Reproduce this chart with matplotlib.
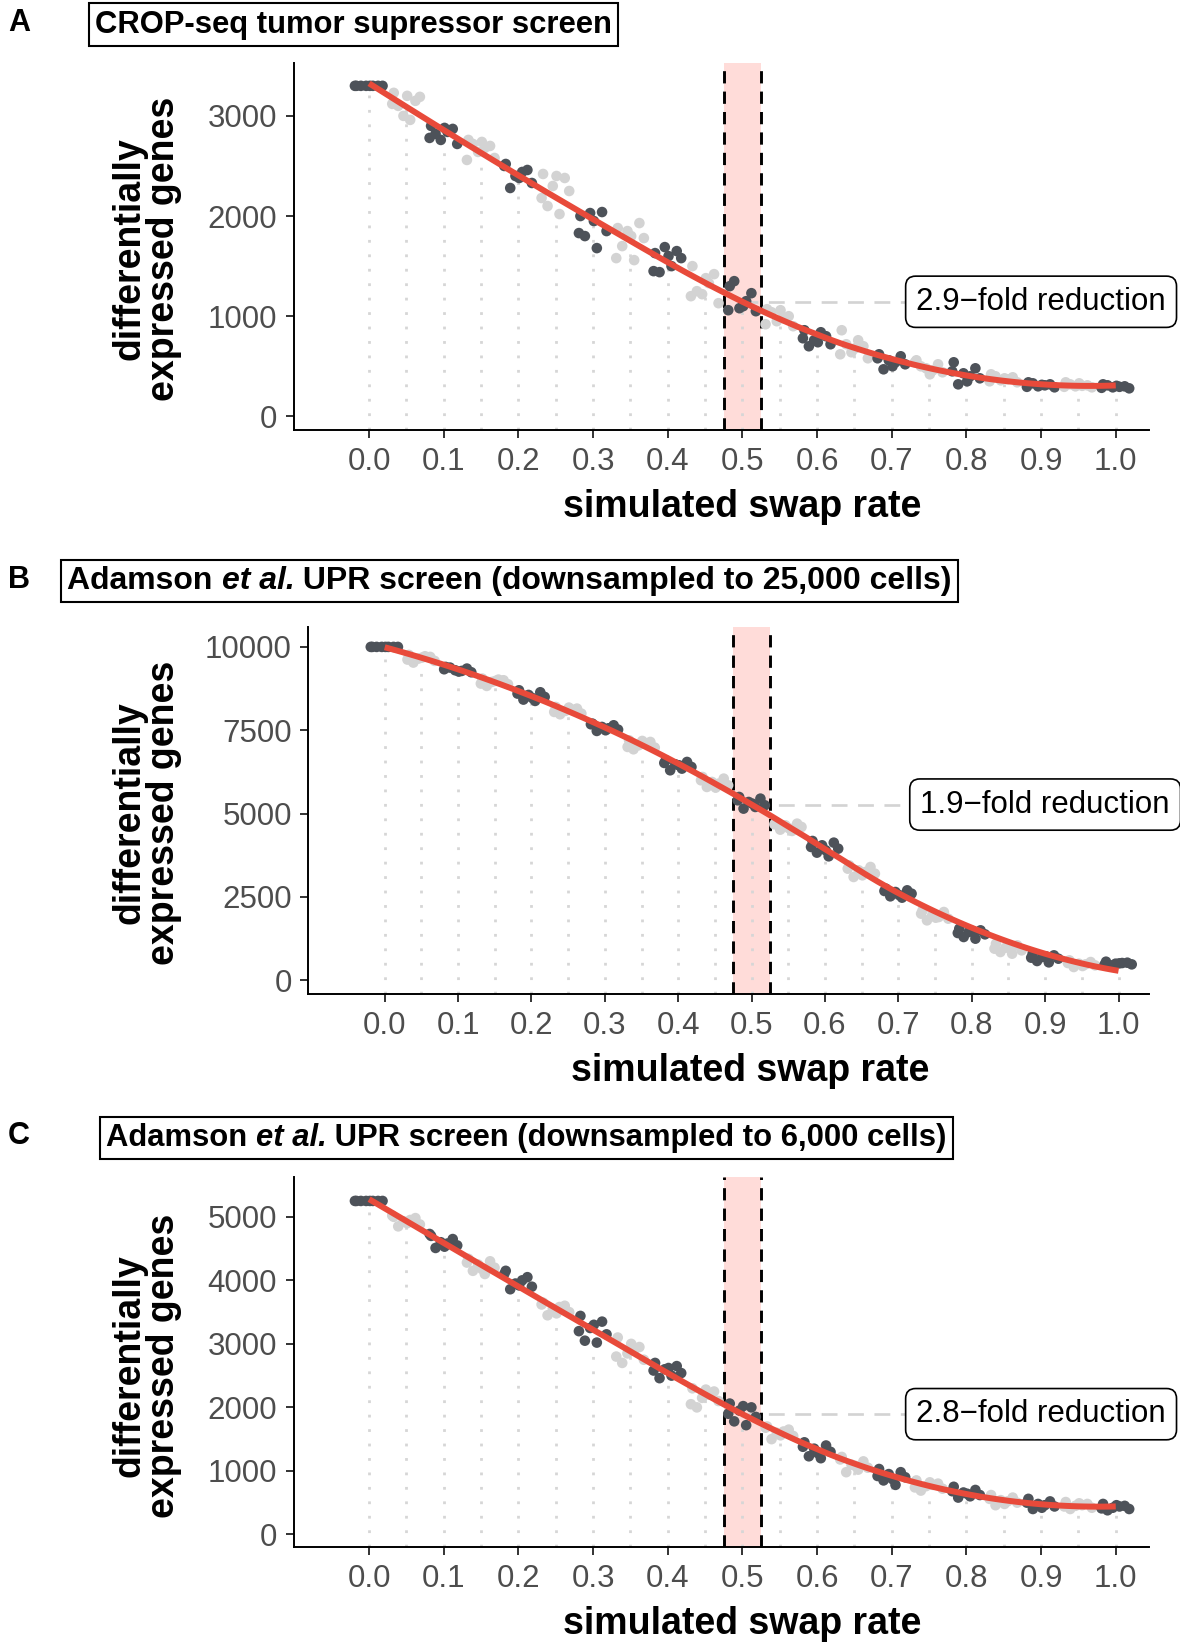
import numpy as np
import matplotlib
matplotlib.use('Agg')
import matplotlib.pyplot as plt
from matplotlib.offsetbox import TextArea, HPacker, AnchoredOffsetbox

plt.rcParams['font.family'] = ['Liberation Sans', 'DejaVu Sans']

# ---------------- data ----------------
swap_rates = [0.00, 0.05, 0.10, 0.15, 0.20, 0.25, 0.30, 0.35, 0.40, 0.45, 0.50,
              0.55, 0.60, 0.65, 0.70, 0.75, 0.80, 0.85, 0.90, 0.95, 1.00]
x_tick_values = [0.0, 0.1, 0.2, 0.3, 0.4, 0.5, 0.6, 0.7, 0.8, 0.9, 1.0]
x_tick_labels = ['0.0', '0.1', '0.2', '0.3', '0.4', '0.5', '0.6', '0.7', '0.8', '0.9', '1.0']
# horizontal jitter of the replicate points
jitter_offsets = [-0.017, 0.012, -0.004, 0.018, -0.011, 0.005, -0.019, 0.001]

crop_seq_degs = [
    [3300, 3300, 3300, 3300, 3300, 3300, 3300, 3300],
    [3230, 3150, 3000, 3190, 3100, 2960, 3120, 3200],
    [2900, 2870, 2760, 2720, 2820, 2840, 2780, 2880],
    [2760, 2700, 2640, 2580, 2720, 2680, 2560, 2740],
    [2520, 2460, 2400, 2330, 2280, 2440, 2500, 2380],
    [2420, 2380, 2300, 2250, 2100, 2020, 2180, 2400],
    [2000, 2040, 2030, 1850, 1800, 1680, 1830, 1950],
    [1880, 1930, 1850, 1780, 1700, 1560, 1580, 1800],
    [1630, 1650, 1690, 1580, 1440, 1500, 1450, 1600],
    [1500, 1420, 1220, 1130, 1250, 1330, 1200, 1380],
    [1300, 1230, 1080, 1050, 1350, 1150, 1060, 1100],
    [1070, 1000, 950, 900, 1040, 980, 920, 1060],
    [860, 800, 760, 720, 700, 840, 780, 740],
    [860, 700, 640, 580, 720, 760, 620, 680],
    [620, 600, 560, 520, 470, 540, 580, 500],
    [560, 520, 480, 440, 500, 460, 540, 420],
    [540, 480, 430, 380, 320, 400, 450, 350],
    [420, 390, 360, 340, 400, 370, 350, 380],
    [340, 320, 300, 290, 330, 310, 295, 315],
    [340, 310, 300, 290, 320, 305, 295, 330],
    [320, 300, 290, 280, 310, 295, 285, 305],
]

adamson_25k_degs = [
    [10000, 10000, 10000, 10000, 10000, 10000, 10000, 10000],
    [9760, 9700, 9650, 9580, 9530, 9720, 9620, 9680],
    [9400, 9350, 9300, 9240, 9380, 9280, 9330, 9260],
    [9050, 9000, 8950, 8880, 8830, 9020, 8900, 8980],
    [8700, 8640, 8560, 8500, 8420, 8380, 8600, 8470],
    [8200, 8150, 8080, 8000, 7980, 8120, 8050, 8180],
    [7700, 7650, 7600, 7520, 7480, 7560, 7680, 7500],
    [7200, 7150, 7050, 6980, 6930, 7100, 7000, 7180],
    [6600, 6550, 6480, 6400, 6300, 6350, 6520, 6450],
    [6100, 6050, 5950, 5850, 5800, 5900, 6000, 5780],
    [5500, 5450, 5350, 5250, 5150, 5200, 5400, 5300],
    [4750, 4700, 4650, 4600, 4520, 4480, 4680, 4560],
    [4180, 4130, 4050, 3950, 3830, 3720, 4000, 3900],
    [3450, 3400, 3300, 3200, 3100, 3250, 3350, 3150],
    [2750, 2700, 2650, 2600, 2520, 2480, 2680, 2560],
    [2100, 2050, 1950, 1850, 1800, 1900, 2000, 1880],
    [1550, 1500, 1450, 1380, 1300, 1250, 1420, 1480],
    [1100, 1050, 980, 900, 850, 800, 950, 1020],
    [800, 750, 700, 650, 580, 540, 680, 720],
    [600, 550, 500, 450, 400, 480, 520, 430],
    [560, 530, 500, 480, 450, 520, 470, 510],
]

adamson_6k_degs = [
    [5250, 5250, 5250, 5250, 5250, 5250, 5250, 5250],
    [5000, 4980, 4930, 4880, 4850, 4950, 5020, 4900],
    [4700, 4650, 4600, 4550, 4510, 4580, 4730, 4530],
    [4340, 4300, 4250, 4200, 4150, 4100, 4280, 4180],
    [4150, 4050, 3950, 3900, 3860, 4000, 4100, 3920],
    [3650, 3600, 3550, 3500, 3450, 3580, 3620, 3480],
    [3440, 3350, 3250, 3150, 3050, 3020, 3200, 3300],
    [3100, 2950, 2850, 2750, 2700, 2900, 2800, 3000],
    [2700, 2650, 2600, 2540, 2460, 2500, 2580, 2620],
    [2300, 2250, 2150, 2100, 2000, 2200, 2050, 2280],
    [2060, 2000, 1950, 1850, 1780, 1720, 1900, 2020],
    [1700, 1650, 1600, 1550, 1500, 1620, 1680, 1560],
    [1450, 1400, 1350, 1300, 1230, 1200, 1380, 1280],
    [1220, 1150, 1100, 1050, 980, 1020, 1180, 1080],
    [1030, 980, 950, 900, 850, 780, 920, 870],
    [850, 800, 760, 720, 690, 780, 740, 820],
    [750, 700, 660, 620, 580, 600, 680, 640],
    [620, 580, 540, 500, 460, 520, 560, 480],
    [560, 520, 480, 440, 400, 460, 500, 420],
    [510, 480, 450, 420, 400, 460, 440, 490],
    [480, 450, 420, 400, 380, 440, 410, 460],
]

panel_letters = ['A', 'B', 'C']
panel_titles = [
    [('CROP-seq tumor supressor screen', 'normal')],
    [('Adamson ', 'normal'), ('et al.', 'italic'), (' UPR screen (downsampled to 25,000 cells)', 'normal')],
    [('Adamson ', 'normal'), ('et al.', 'italic'), (' UPR screen (downsampled to 6,000 cells)', 'normal')],
]
fold_labels = ['2.9\u2212fold reduction', '1.9\u2212fold reduction', '2.8\u2212fold reduction']
y_ticks = [[0, 1000, 2000, 3000],
           [0, 2500, 5000, 7500, 10000],
           [0, 1000, 2000, 3000, 4000, 5000]]
panel_data = [crop_seq_degs, adamson_25k_degs, adamson_6k_degs]
x_label = 'simulated swap rate'
y_label = 'differentially\nexpressed genes'
highlight_rate = 0.5
band_half_width = 0.025
label_x = 0.9

# ---------------- layout / style ----------------
W, H = 1180, 1644
axes_px = [(293.7, 1148.6, 62.9, 430.0),
           (308.4, 1148.6, 627.0, 994.0),
           (293.7, 1148.6, 1177.0, 1547.0)]
xlims = [(-0.101, 1.044), (-0.104, 1.041), (-0.101, 1.044)]
ylims = [(-136, 3529), (-409, 10597), (-198, 5627)]
title_box = [(89 / W, 1 - 24.6 / H), (61 / W, 1 - 581 / H), (99.6 / W, 1 - 1138 / H)]
title_size = [22.35, 23.0, 22.35]
letter_y = [1 - 23 / H, 1 - 580 / H, 1 - 1136 / H]
xlabel_pos = [(742 / W, 1 - 506.6 / H), (750.5 / W, 1 - 1071 / H), (742 / W, 1 - 1624 / H)]
ylabel_pos = [(147 / W, 1 - 249 / H), (147 / W, 1 - 813 / H), (147 / W, 1 - 1366 / H)]

dark_col = '#4D5259'
light_col = '#D3D3D3'
red_col = '#E84A3A'
band_col = '#FFDCD9'
tick_col = '#4D4D4D'


def loess(x, y, xs, span=0.75):
    x = np.asarray(x, float)
    y = np.asarray(y, float)
    n = len(x)
    q = int(np.floor(n * span))
    out = []
    for x0 in xs:
        d = np.abs(x - x0)
        h = np.sort(d)[q - 1]
        w = np.clip(1 - (d / h) ** 3, 0, None) ** 3
        X = np.vstack([np.ones(n), x - x0, (x - x0) ** 2]).T
        sw = np.sqrt(w)
        beta, *_ = np.linalg.lstsq(X * sw[:, None], y * sw, rcond=None)
        out.append(beta[0])
    return np.array(out)


fig = plt.figure(figsize=(W / 100, H / 100), dpi=100)

for i in range(3):
    l, r, t, b = axes_px[i]
    ax = fig.add_axes([l / W, 1 - b / H, (r - l) / W, (b - t) / H])
    ax.set_xlim(*xlims[i])
    ax.set_ylim(*ylims[i])
    data = panel_data[i]
    ybot = ylims[i][0]

    # highlight band
    ax.axvspan(highlight_rate - band_half_width, highlight_rate + band_half_width,
               color=band_col, lw=0, zorder=0.5)

    # dotted guides
    for xr, ys in zip(swap_rates, data):
        ax.plot([xr, xr], [ybot, np.mean(ys)], color='#D6D6D6', lw=2.0,
                linestyle=(0, (1, 4.2)), solid_capstyle='butt', dash_capstyle='butt',
                zorder=1)

    # loess fit
    xs_all = np.repeat(swap_rates, [len(g) for g in data])
    ys_all = np.concatenate([np.asarray(g, float) for g in data])
    xs_fit = np.linspace(0, 1, 120)
    ys_fit = loess(xs_all, ys_all, xs_fit)
    y_mid = loess(xs_all, ys_all, [highlight_rate])[0]

    # horizontal reference line to label
    ax.plot([highlight_rate, label_x], [y_mid, y_mid], color='#D3D3D3', lw=1.9,
            linestyle=(0, (6, 4)), zorder=1.5)

    # dashed band edges
    for xe in (highlight_rate - band_half_width, highlight_rate + band_half_width):
        ax.axvline(xe, color='black', lw=2.1, linestyle=(0, (4.2, 2.8)), zorder=2)

    # points
    for k, (xr, ys) in enumerate(zip(swap_rates, data)):
        col = dark_col if k % 2 == 0 else light_col
        xj = [xr + jitter_offsets[j % len(jitter_offsets)] for j in range(len(ys))]
        ax.scatter(xj, ys, s=58, c=col, edgecolors='none', zorder=3)

    ax.plot(xs_fit, ys_fit, color=red_col, lw=4.3, zorder=4, solid_capstyle='butt')

    ax.text(label_x, y_mid, fold_labels[i], ha='center', va='center', fontsize=22.5,
            bbox=dict(boxstyle='round,pad=0.34,rounding_size=0.32', fc='white',
                      ec='black', lw=1.2), clip_on=False, zorder=6)

    # axes styling
    for s in ('top', 'right'):
        ax.spines[s].set_visible(False)
    for s in ('left', 'bottom'):
        ax.spines[s].set_linewidth(1.4)
        ax.spines[s].set_color('black')
    ax.set_xticks(x_tick_values)
    ax.set_xticklabels(x_tick_labels)
    ax.set_yticks(y_ticks[i])
    ax.set_yticklabels([str(v) for v in y_ticks[i]])
    ax.tick_params(axis='both', length=5.5, width=1.4, color='#333333',
                   labelcolor=tick_col, labelsize=22.5, pad=6.5)

    # axis titles
    fig.text(*xlabel_pos[i], x_label, ha='center', va='center', fontsize=27,
             fontweight='bold')
    fig.text(*ylabel_pos[i], y_label, ha='center', va='center', fontsize=27,
             fontweight='bold', rotation=90, linespacing=0.95)

    # panel letter
    fig.text(19 / W, letter_y[i], panel_letters[i], ha='center', va='center',
             fontsize=22, fontweight='bold')

    # title box
    parts = [TextArea(txt, textprops=dict(fontsize=title_size[i], fontweight='bold', fontstyle=st))
             for txt, st in panel_titles[i]]
    pack = HPacker(children=parts, align='baseline', pad=0, sep=0)
    box = AnchoredOffsetbox(loc='center left', child=pack, pad=0.2, frameon=True,
                            bbox_to_anchor=title_box[i], bbox_transform=fig.transFigure,
                            borderpad=0, prop=dict(size=title_size[i]))
    box.patch.set_linewidth(1.5)
    box.patch.set_edgecolor('black')
    box.patch.set_boxstyle('square', pad=0)
    fig.add_artist(box)

fig.savefig('out.png', dpi=100)
